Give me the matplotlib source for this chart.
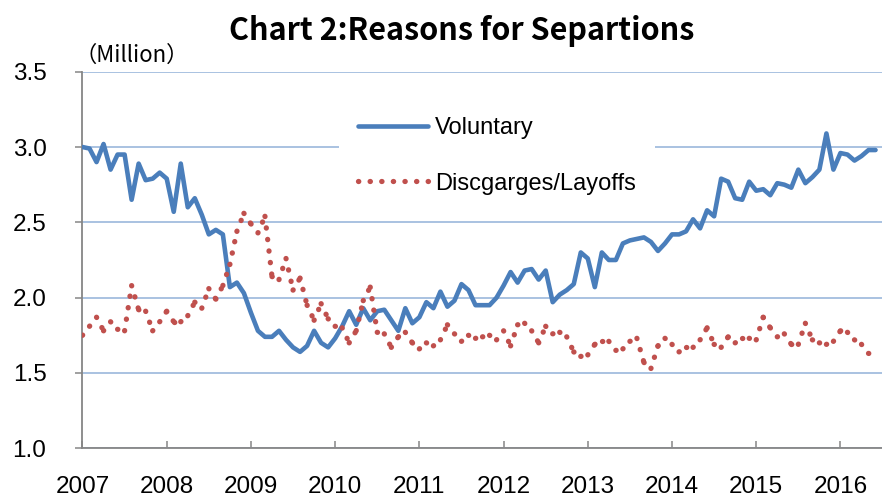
import numpy as np
import matplotlib
matplotlib.use("Agg")
import matplotlib.pyplot as plt
from matplotlib.collections import LineCollection
from matplotlib.lines import Line2D

# ---- data (monthly, Jan 2007 - Jun 2016, millions) ----
years = [2007, 2008, 2009, 2010, 2011, 2012, 2013, 2014, 2015, 2016]
y_ticks = [1.0, 1.5, 2.0, 2.5, 3.0, 3.5]
voluntary = [
    3.00, 2.99, 2.90, 3.02, 2.85, 2.95, 2.95, 2.65, 2.89, 2.78, 2.79, 2.83,
    2.79, 2.57, 2.89, 2.60, 2.66, 2.55, 2.42, 2.45, 2.42, 2.07, 2.10, 2.03,
    1.90, 1.78, 1.74, 1.74, 1.78, 1.72, 1.67, 1.64, 1.68, 1.78, 1.70, 1.67,
    1.73, 1.81, 1.91, 1.82, 1.93, 1.85, 1.91, 1.92, 1.85, 1.78, 1.93, 1.83,
    1.87, 1.97, 1.93, 2.04, 1.94, 1.98, 2.09, 2.05, 1.95, 1.95, 1.95, 2.00,
    2.08, 2.17, 2.10, 2.18, 2.19, 2.12, 2.18, 1.97, 2.02, 2.05, 2.09, 2.30,
    2.26, 2.07, 2.30, 2.25, 2.25, 2.36, 2.38, 2.39, 2.40, 2.37, 2.31, 2.36,
    2.42, 2.42, 2.44, 2.52, 2.46, 2.58, 2.54, 2.79, 2.77, 2.66, 2.65, 2.77,
    2.71, 2.72, 2.68, 2.76, 2.75, 2.73, 2.85, 2.76, 2.80, 2.85, 3.09, 2.85,
    2.96, 2.95, 2.91, 2.94, 2.98, 2.98,
]
layoffs = [
    1.75, 1.81, 1.87, 1.78, 1.84, 1.79, 1.78, 2.08, 1.92, 1.91, 1.78, 1.84,
    1.91, 1.84, 1.84, 1.88, 1.97, 1.93, 2.06, 1.99, 2.08, 2.22, 2.44, 2.56,
    2.49, 2.43, 2.54, 2.14, 2.12, 2.26, 2.05, 2.13, 1.95, 1.85, 1.96, 1.86,
    1.81, 1.80, 1.70, 1.78, 1.98, 2.07, 1.77, 1.76, 1.67, 1.74, 1.77, 1.70,
    1.66, 1.70, 1.68, 1.72, 1.82, 1.76, 1.71, 1.75, 1.73, 1.74, 1.75, 1.72,
    1.78, 1.68, 1.82, 1.83, 1.78, 1.70, 1.81, 1.76, 1.77, 1.74, 1.64, 1.61,
    1.62, 1.69, 1.71, 1.71, 1.65, 1.66, 1.71, 1.73, 1.57, 1.53, 1.68, 1.73,
    1.69, 1.64, 1.67, 1.67, 1.72, 1.80, 1.69, 1.67, 1.74, 1.70, 1.73, 1.73,
    1.72, 1.87, 1.80, 1.74, 1.76, 1.69, 1.69, 1.83, 1.72, 1.70, 1.69, 1.71,
    1.78, 1.77, 1.72, 1.69, 1.63, 1.62,
]
labels = ["Voluntary", "Discgarges/Layoffs"]

BLUE = "#4A7EBB"
RED = "#C0504D"
GRID = "#9BB8DC"
AXC = "#868686"
TICKFONT = "Liberation Sans"

months = np.arange(len(voluntary))
year_pos = [12 * k for k in range(len(years))]

fig = plt.figure(figsize=(8.82, 4.98), dpi=100)
W, H = 882.0, 498.0
ax = fig.add_axes([81.5 / W, (H - 448.3) / H, (881.5 - 81.5) / W, (448.3 - 71.7) / H])

# voluntary: solid line
ax.plot(months, voluntary, color=BLUE, lw=3.3, solid_joinstyle="round",
        solid_capstyle="round", zorder=3)

# layoffs: dotted line, pattern restarting each segment (as in Excel)
lay = np.asarray(layoffs)
pts = np.column_stack([months, lay])
segs = np.stack([pts[:-1], pts[1:]], axis=1)
DOT_LW = 3.8
dot_ls = (0, (0.05, 2.15))
lc = LineCollection(segs, colors=RED, linewidths=DOT_LW, linestyles=[dot_ls],
                    capstyle="round", zorder=3)
ax.add_collection(lc)

ax.set_xlim(-0.142, 113.85)
ax.set_ylim(1.0, 3.5)
ax.set_yticks(y_ticks)
ax.set_yticklabels([f"{v:.1f}" for v in y_ticks], fontsize=17.5, family=TICKFONT)
ax.set_xticks(year_pos)
ax.set_xticklabels([str(y) for y in years], fontsize=17.5, family=TICKFONT)

ax.yaxis.grid(True, color=GRID, lw=1.2)
ax.set_axisbelow(True)
for s in ["top", "right"]:
    ax.spines[s].set_visible(False)
for s in ["left", "bottom"]:
    ax.spines[s].set_color(AXC)
    ax.spines[s].set_linewidth(1.3)
ax.tick_params(axis="y", direction="out", length=5.2, width=1.1, color=AXC, pad=20)
ax.tick_params(axis="x", direction="in", length=4.8, width=1.1, color=AXC, pad=20)

# legend
handles = [
    Line2D([], [], color=BLUE, lw=3.3, solid_capstyle="round"),
    Line2D([], [], color=RED, lw=DOT_LW, linestyle=dot_ls, dash_capstyle="round"),
]
leg = fig.legend(handles, labels, loc="center",
                 bbox_to_anchor=(497 / W, 1 - 156 / H),
                 prop={"family": TICKFONT, "size": 17},
                 handlelength=2.97, handletextpad=0.3, labelspacing=1.4,
                 frameon=True, fancybox=False, borderpad=0.8)
leg.get_frame().set_facecolor("white")
leg.get_frame().set_edgecolor("none")
leg.get_frame().set_alpha(1)
leg.set_zorder(5)

# title and unit label
fig.text(461.5 / W, 1 - 31 / H, "Chart 2:Reasons for Separtions",
         ha="center", va="center", fontsize=22, fontweight="bold",
         family=["Noto Sans CJK JP", "DejaVu Sans"])
fig.text(74 / W, 1 - 55 / H, "（Million）", ha="left", va="center",
         fontsize=16, family=["Noto Sans CJK JP", "DejaVu Sans"])

fig.savefig("out.png", dpi=100)
